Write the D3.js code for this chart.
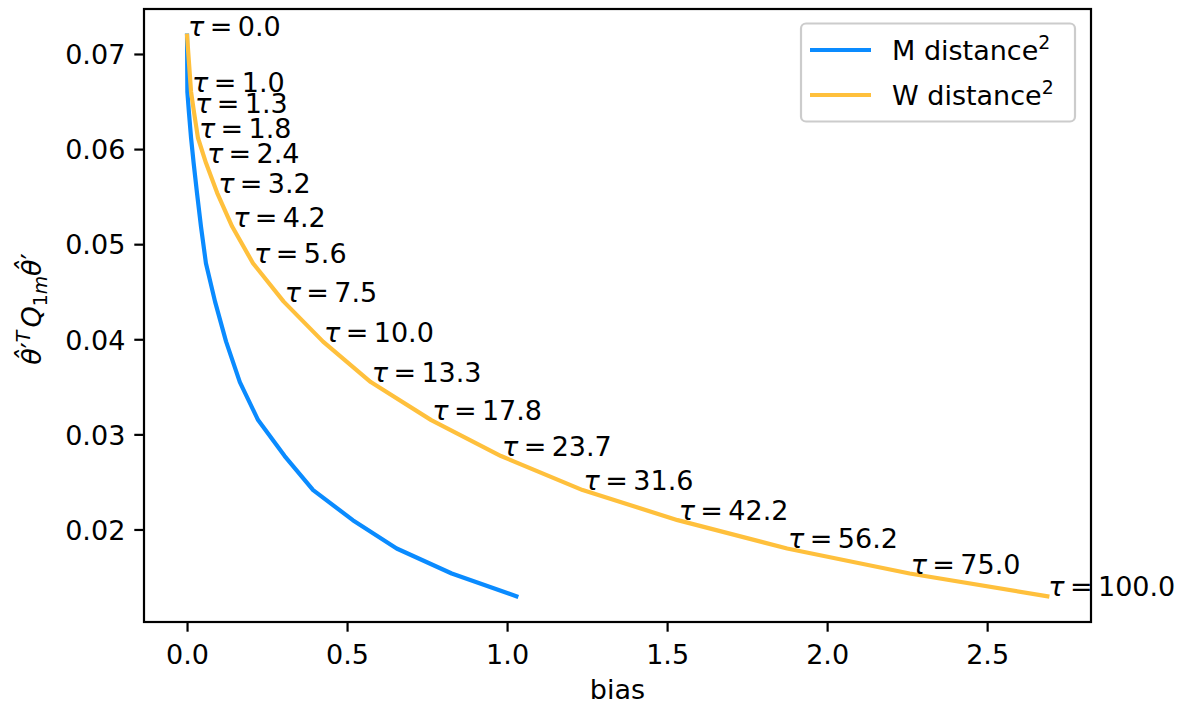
<!DOCTYPE html>
<html>
<head>
<meta charset="utf-8">
<script src="https://cdn.jsdelivr.net/npm/d3@7"></script>
<style>
  html, body { margin: 0; padding: 0; background: #fff; }
  svg { display: block; font-family: "DejaVu Sans", sans-serif; }
</style>
</head>
<body>
<svg id="chart" width="1180" height="705"></svg>
<script>
// ---- data ----
const tauLabels = ["0.0","1.0","1.3","1.8","2.4","3.2","4.2","5.6","7.5","10.0","13.3","17.8","23.7","31.6","42.2","56.2","75.0","100.0"];
const quadValues = [0.07193,0.06603,0.06382,0.06119,0.05856,0.0554,0.05185,0.0480,0.04396,0.03975,0.0355,0.0315,0.02772,0.02414,0.02098,0.0180,0.01537,0.01298];
const biasM = [0,0.001,0.006,0.0125,0.0205,0.031,0.0435,0.059,0.0875,0.122,0.165,0.222,0.305,0.394,0.518,0.655,0.827,1.029];
const biasW = [0,0.0125,0.022,0.034,0.059,0.094,0.141,0.206,0.302,0.425,0.574,0.763,0.981,1.236,1.533,1.875,2.258,2.688];
const xTicks = [0.0,0.5,1.0,1.5,2.0,2.5];
const yTicks = [0.02,0.03,0.04,0.05,0.06,0.07];
const seriesNames = ["M distance","W distance"];
const colors = ["#0a8bff","#ffc03c"];

// ---- layout ----
const svg = d3.select("#chart");
const L = 144, R = 1091, T = 9, B = 622;
const FS = 27;
const x = d3.scaleLinear().domain([-0.1345, 2.8245]).range([L, R]);
const y = d3.scaleLinear().domain([0.01027, 0.07473]).range([B, T]);

// lines
const line = d3.line().x(d => x(d[0])).y(d => y(d[1]));
const series = [biasM, biasW];
series.forEach((bx, i) => {
  svg.append("path")
    .datum(bx.map((v, j) => [v, quadValues[j]]))
    .attr("d", line)
    .attr("fill", "none")
    .attr("stroke", colors[i])
    .attr("stroke-width", 4.2)
    .attr("stroke-linejoin", "round")
    .attr("stroke-linecap", "square");
});

// tau annotations along W curve
const ann = svg.append("g").attr("font-size", FS).attr("fill", "#000");
biasW.forEach((bx, j) => {
  const t = ann.append("text")
    .attr("x", x(bx) + 1)
    .attr("y", y(quadValues[j]));
  t.append("tspan").attr("font-style", "italic").text("τ");
  t.append("tspan").text("\u2009=\u2009" + tauLabels[j]);
});

// axes
const xAxis = d3.axisBottom(x).tickValues(xTicks).tickFormat(d3.format(".1f"))
  .tickSize(9.7).tickPadding(7);
const yAxis = d3.axisLeft(y).tickValues(yTicks).tickFormat(d3.format(".2f"))
  .tickSize(9.7).tickPadding(9);
const gx = svg.append("g").attr("transform", `translate(0,${B})`).call(xAxis);
const gy = svg.append("g").attr("transform", `translate(${L},0)`).call(yAxis);
[gx, gy].forEach(g => {
  g.select(".domain").remove();
  g.selectAll(".tick line").attr("stroke", "#000").attr("stroke-width", 2.2);
  g.selectAll(".tick text").attr("font-size", FS).attr("font-family", "DejaVu Sans").attr("fill", "#000");
});
gx.selectAll(".tick text").attr("dy", null).attr("y", 42);
gy.selectAll(".tick text").attr("dy", "0.36em");

// frame
svg.append("rect").attr("x", L).attr("y", T).attr("width", R - L).attr("height", B - T)
  .attr("fill", "none").attr("stroke", "#000").attr("stroke-width", 2.2);

// x label
svg.append("text").attr("x", (L + R) / 2).attr("y", 699).attr("text-anchor", "middle")
  .attr("font-size", FS).text("bias");

// y label: \hat\theta'^T Q_{1m} \hat\theta'
const yl = svg.append("text")
  .attr("transform", `translate(41,309) rotate(-90)`)
  .attr("text-anchor", "middle").attr("font-size", FS);
yl.append("tspan").attr("font-style", "italic").text("θ\u0302");
yl.append("tspan").text("\u2032");
yl.append("tspan").attr("font-style", "italic").attr("font-size", FS * 0.7).attr("dy", -11).text("T");
yl.append("tspan").attr("font-style", "italic").attr("dy", 11).attr("dx", 3).text("Q");
yl.append("tspan").attr("font-size", FS * 0.7).attr("dy", 6).text("1");
yl.append("tspan").attr("font-style", "italic").attr("font-size", FS * 0.7).text("m");
yl.append("tspan").attr("font-style", "italic").attr("dy", -6).text("θ\u0302");
yl.append("tspan").text("\u2032");

// legend
const lg = svg.append("g");
lg.append("rect").attr("x", 801).attr("y", 23.5).attr("width", 274).attr("height", 98)
  .attr("rx", 5).attr("fill", "#fff").attr("fill-opacity", 0.8)
  .attr("stroke", "#cccccc").attr("stroke-width", 2.2);
seriesNames.forEach((name, i) => {
  const yy = 50 + i * 45;
  lg.append("line").attr("x1", 810).attr("x2", 871).attr("y1", yy).attr("y2", yy)
    .attr("stroke", colors[i]).attr("stroke-width", 4.2);
  const t = lg.append("text").attr("x", 892).attr("y", yy + 10).attr("font-size", FS);
  t.append("tspan").text(name);
  t.append("tspan").attr("font-size", FS * 0.7).attr("dy", -11).text("2");
});
</script>
</body>
</html>
